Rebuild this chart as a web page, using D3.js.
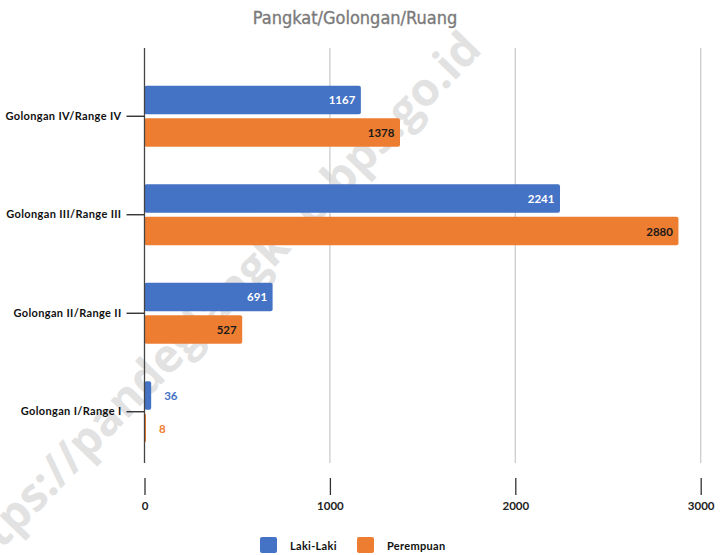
<!DOCTYPE html>
<html>
<head>
<meta charset="utf-8">
<script src="https://cdn.jsdelivr.net/npm/d3@7"></script>
<style>
  body { margin: 0; background: #fff; }
  svg { display: block; font-family: Lato, "Open Sans", sans-serif; }
</style>
</head>
<body>
<div id="chart"></div>
<script>
var width = 720,
    height = 555;

// data
var categories = ["Golongan IV/Range IV", "Golongan III/Range III", "Golongan II/Range II", "Golongan I/Range I"];
var series = ["Laki-Laki", "Perempuan"];
var lakiLaki = [1167, 2241, 691, 36];
var perempuan = [1378, 2880, 527, 8];
var xTicks = [0, 1000, 2000, 3000];

var colors = { "Laki-Laki": "#4472c4", "Perempuan": "#ed7d31" };

var rows = categories.map(function(c, i) {
  return { cat: c, values: [
    { key: "Laki-Laki", value: lakiLaki[i] },
    { key: "Perempuan", value: perempuan[i] }
  ]};
});

var svg = d3.select("#chart").append("svg")
    .attr("width", width)
    .attr("height", height);

var x = d3.scaleLinear()
    .domain([0, 3000])
    .range([144.5, 700.7]);

var y0 = d3.scaleBand()
    .domain(categories)
    .range([67, 461])
    .paddingInner(0.38)
    .paddingOuter(0.19);

var y1 = d3.scaleBand()
    .domain(series)
    .range([0, y0.bandwidth()])
    .paddingInner(0.13);

var plotTop = 48, plotBottom = 463;

// watermark (runs off the left edge, as in the original)
svg.append("text")
    .attr("transform", "translate(212,306) rotate(-46)")
    .attr("text-anchor", "middle")
    .attr("dominant-baseline", "central")
    .style("font-family", "'Open Sans', sans-serif")
    .style("font-weight", "bold")
    .style("font-size", "46px")
    .style("fill", "#e2e2e2")
    .text("https://pandeglangkab.bps.go.id");

// title
svg.append("text")
    .attr("x", 355)
    .attr("y", 17)
    .attr("text-anchor", "middle")
    .attr("dominant-baseline", "central")
    .style("font-family", "'DejaVu Sans Condensed', 'DejaVu Sans', sans-serif")
    .style("font-size", "18px")
    .style("stroke", "#7a7a7a")
    .style("stroke-width", 0.35)
    .style("fill", "#7a7a7a")
    .text("Pangkat/Golongan/Ruang");

// gridlines
svg.append("g").selectAll("line")
    .data(xTicks.slice(1))
    .enter().append("line")
    .attr("x1", function(d) { return x(d); })
    .attr("x2", function(d) { return x(d); })
    .attr("y1", plotTop)
    .attr("y2", plotBottom)
    .style("stroke", "#cccccc")
    .style("stroke-width", 1.3);

// bottom axis, ticks hanging below the plot
var xAxis = svg.append("g")
    .attr("transform", "translate(0," + 478 + ")")
    .call(d3.axisBottom(x).tickValues(xTicks).tickSize(17).tickPadding(7).tickFormat(d3.format("d")));
xAxis.select(".domain").remove();
xAxis.selectAll(".tick line").style("stroke", "#333").style("stroke-width", 1.3);
xAxis.selectAll("text")
    .style("font-family", "Lato, sans-serif")
    .style("font-weight", "bold")
    .style("font-size", "11.5px")
    .style("fill", "#222");

// bars
var groups = svg.append("g").selectAll("g")
    .data(rows)
    .enter().append("g")
    .attr("transform", function(d) { return "translate(0," + y0(d.cat) + ")"; });

groups.selectAll("rect")
    .data(function(d) { return d.values; })
    .enter().append("rect")
    .attr("x", x(0))
    .attr("y", function(d) { return y1(d.key); })
    .attr("width", function(d) { return Math.max(x(d.value) - x(0), 1.5); })
    .attr("height", y1.bandwidth())
    .attr("rx", 2)
    .style("fill", function(d) { return colors[d.key]; });

// value labels
groups.selectAll("text.val")
    .data(function(d) { return d.values; })
    .enter().append("text")
    .attr("class", "val")
    .attr("x", function(d) { return d.value < 200 ? x(d.value) + 13 : x(d.value) - 5.5; })
    .attr("y", function(d) { return y1(d.key) + y1.bandwidth() / 2; })
    .attr("text-anchor", function(d) { return d.value < 200 ? "start" : "end"; })
    .attr("dominant-baseline", "central")
    .style("font-weight", "bold")
    .style("font-size", "11.5px")
    .style("fill", function(d) {
      if (d.value < 200) return colors[d.key];
      return d.key == "Laki-Laki" ? "#ffffff" : "#1a1a1a";
    })
    .text(function(d) { return d.value; });

// left axis
var yAxis = svg.append("g")
    .attr("transform", "translate(" + x(0) + ",0)")
    .call(d3.axisLeft(y0).tickSize(18).tickPadding(5));
yAxis.select(".domain").remove();
yAxis.selectAll(".tick line").style("stroke", "#222").style("stroke-width", 1.3);
yAxis.selectAll("text")
    .style("font-family", "Lato, sans-serif")
    .style("font-weight", "bold")
    .style("font-size", "11px")
    .style("letter-spacing", "0.35px")
    .style("fill", "#111");

svg.append("line")
    .attr("x1", x(0)).attr("x2", x(0))
    .attr("y1", plotTop).attr("y2", plotBottom)
    .style("stroke", "#444")
    .style("stroke-width", 1.3);

// legend
var legend = svg.append("g").selectAll("g")
    .data(series)
    .enter().append("g")
    .attr("transform", function(d, i) { return "translate(" + (260 + i * 97) + ",537)"; });

legend.append("rect")
    .attr("width", 17)
    .attr("height", 16)
    .attr("rx", 2)
    .style("fill", function(d) { return colors[d]; });

legend.append("text")
    .attr("x", 30)
    .attr("y", 8)
    .attr("dominant-baseline", "central")
    .style("font-weight", "bold")
    .style("font-size", "11px")
    .style("letter-spacing", "0.3px")
    .style("fill", "#111")
    .text(function(d) { return d; });
</script>
</body>
</html>
